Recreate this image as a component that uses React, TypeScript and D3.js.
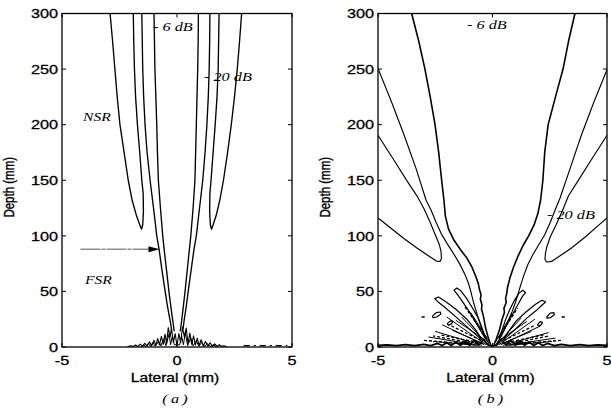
import React from "react";
import * as d3 from "d3";

type Pt = [number, number]; // [lateral (mm), depth (mm)]
type Seg = [Pt, Pt];

const depthTicks = [0, 50, 100, 150, 200, 250, 300];
const lateralTicks = [-5, 0, 5];

// ---------- panel (a): contours ----------
const aOuterLeft: Pt[] = [
  [-2.91, 300], [-2.8, 275], [-2.7, 250], [-2.6, 225], [-2.48, 200], [-2.3, 175],
  [-2.12, 150], [-1.95, 132], [-1.76, 118], [-1.62, 110], [-1.54, 106], [-1.49, 110],
  [-1.46, 122], [-1.47, 138], [-1.53, 150], [-1.62, 175], [-1.72, 200], [-1.8, 225],
  [-1.85, 250], [-1.88, 275], [-1.9, 300],
];
const aMidLeft: Pt[] = [
  [-1.53, 300], [-1.51, 275], [-1.49, 250], [-1.45, 225], [-1.39, 200], [-1.3, 175],
  [-1.17, 150], [-1.02, 125], [-0.88, 100], [-0.78, 88], [-0.66, 70], [-0.53, 52],
  [-0.41, 36], [-0.3, 24], [-0.24, 16],
];
const aInnerLeft: Pt[] = [
  [-1.0, 300], [-0.98, 275], [-0.96, 250], [-0.92, 225], [-0.88, 200], [-0.85, 175],
  [-0.81, 150], [-0.72, 125], [-0.62, 100], [-0.56, 88], [-0.45, 68], [-0.34, 48],
  [-0.24, 32], [-0.16, 20], [-0.12, 14],
];
const aOuterRight: Pt[] = [
  [2.81, 300], [2.72, 275], [2.62, 250], [2.5, 225], [2.36, 200], [2.2, 175],
  [2.02, 150], [1.86, 132], [1.7, 118], [1.57, 110], [1.5, 106], [1.45, 110],
  [1.42, 122], [1.43, 138], [1.48, 150], [1.57, 175], [1.66, 200], [1.74, 225],
  [1.79, 250], [1.81, 275], [1.83, 300],
];
const aMidRight: Pt[] = [
  [1.43, 300], [1.42, 275], [1.4, 250], [1.36, 225], [1.3, 200], [1.22, 175],
  [1.12, 150], [0.98, 125], [0.84, 100], [0.74, 88], [0.62, 70], [0.5, 52],
  [0.4, 36], [0.31, 24], [0.26, 16],
];
const aInnerRight: Pt[] = [
  [0.93, 300], [0.92, 275], [0.9, 250], [0.87, 225], [0.84, 200], [0.81, 175],
  [0.78, 150], [0.7, 125], [0.6, 100], [0.54, 88], [0.44, 68], [0.34, 48],
  [0.25, 32], [0.18, 20], [0.14, 14],
];
// near-field side-lobe ripples of panel (a)
const aNearField: Pt[] = [
  [-2.15, 0.5], [-2.0, 1.2], [-1.9, 0.4], [-1.8, 1.8], [-1.7, 0.5], [-1.6, 2.6],
  [-1.5, 0.6], [-1.4, 3.4], [-1.3, 0.8], [-1.2, 4.6], [-1.1, 1.0], [-1.0, 6.0],
  [-0.92, 1.4], [-0.84, 7.5], [-0.76, 1.8], [-0.68, 9.5], [-0.6, 2.4], [-0.52, 11.5],
  [-0.45, 3.0], [-0.38, 17.5], [-0.3, 9.0], [-0.24, 17.0], [-0.16, 4.0], [-0.08, 12.0],
  [0.0, 1.0], [0.08, 12.0], [0.16, 4.0], [0.24, 18.0], [0.32, 9.0], [0.4, 17.0],
  [0.48, 3.0], [0.56, 12.5], [0.64, 2.4], [0.72, 10.0], [0.8, 1.8], [0.88, 8.0],
  [0.96, 1.4], [1.05, 6.5], [1.14, 1.0], [1.24, 5.0], [1.34, 0.8], [1.44, 3.8],
  [1.54, 0.6], [1.64, 2.8], [1.74, 0.5], [1.84, 2.0], [1.94, 0.4], [2.04, 1.2],
  [2.15, 0.5],
];
const aNearField2: Pt[] = [
  [-1.55, 0.5], [-1.45, 2.0], [-1.35, 0.5], [-1.25, 3.0], [-1.15, 0.6], [-1.05, 4.0],
  [-0.95, 0.8], [-0.8, 5.0], [-0.7, 1.0], [-0.58, 7.5], [-0.48, 1.2], [-0.34, 12.0],
  [-0.28, 2.0], [-0.2, 10.0], [-0.12, 2.0], [0.12, 2.0], [0.2, 10.0], [0.28, 2.0],
  [0.36, 13.0], [0.46, 1.2], [0.6, 8.0], [0.7, 1.0], [0.84, 5.5], [0.95, 0.8],
  [1.08, 4.0], [1.2, 0.6], [1.32, 3.0], [1.45, 0.5], [1.58, 2.0], [1.7, 0.5],
];
const aFarTail: Pt[] = [[2.9, 1.2], [4.8, 1.2]];
const aArrow: Pt[] = [[-4.2, 88], [-0.76, 88]];

// ---------- panel (b): contours ----------
const bMainLeft: Pt[] = [
  [-3.53, 300], [-3.22, 275], [-2.95, 250], [-2.72, 225], [-2.51, 200], [-2.35, 175],
  [-2.22, 150], [-2.12, 132], [-2.06, 118], [-1.92, 106], [-1.68, 96], [-1.38, 87],
  [-1.12, 80], [-0.9, 72], [-0.74, 64], [-0.62, 57], [-0.56, 51], [-0.5, 47],
  [-0.53, 43], [-0.46, 38], [-0.48, 34], [-0.4, 28], [-0.3, 17], [-0.18, 8], [-0.08, 2],
];
const bMainRight: Pt[] = [
  [3.6, 300], [3.32, 275], [3.08, 250], [2.75, 225], [2.43, 200], [2.28, 175],
  [2.2, 150], [2.1, 132], [1.98, 120], [1.82, 110], [1.58, 100], [1.35, 92],
  [1.12, 82], [0.92, 72], [0.76, 62], [0.66, 54], [0.62, 48], [0.57, 44],
  [0.6, 40], [0.5, 35], [0.52, 31], [0.42, 25], [0.3, 15], [0.16, 7], [0.06, 2],
];
const bEdgeLeft: Pt[] = [
  [-5, 250.5], [-4.4, 220], [-3.85, 190], [-3.33, 160], [-2.9, 132], [-2.68, 123],
  [-2.46, 112], [-2.24, 102], [-1.98, 93], [-1.7, 84], [-1.44, 75], [-1.22, 66],
  [-1.06, 58], [-0.96, 51], [-0.9, 46], [-0.84, 41], [-0.74, 34], [-0.62, 26],
  [-0.48, 17], [-0.32, 9], [-0.16, 3],
];
const bEdgeRight: Pt[] = [
  [5, 249.5], [4.42, 220], [3.87, 190], [3.38, 160], [2.95, 134], [2.73, 123],
  [2.52, 112], [2.28, 101], [2.02, 92], [1.76, 83], [1.54, 74], [1.36, 64],
  [1.22, 55], [1.12, 48], [1.0, 40], [0.86, 32], [0.68, 23], [0.48, 14],
  [0.28, 6], [0.14, 2],
];
const bLobeLeft: Pt[] = [
  [-5, 190.5], [-4.3, 168], [-3.72, 149], [-3.3, 136], [-2.98, 124], [-2.72, 112],
  [-2.48, 100], [-2.32, 92], [-2.25, 86], [-2.23, 80], [-2.28, 77], [-2.45, 77.3],
  [-2.8, 82], [-3.3, 89], [-3.9, 98], [-4.5, 108], [-5, 116],
];
const bLobeRight: Pt[] = [
  [5, 190.5], [4.3, 168], [3.72, 149], [3.32, 136], [3.06, 123], [2.78, 110],
  [2.52, 99], [2.37, 90], [2.31, 84], [2.29, 79], [2.36, 76.5], [2.58, 77],
  [2.95, 82], [3.45, 89], [4.05, 99], [4.6, 109], [5, 116],
];
// near-field finger lobes (closed)
const bFingerLeft1: Pt[] = [
  [-0.3, 7], [-0.7, 21], [-1.05, 33], [-1.35, 42], [-1.56, 48], [-1.68, 51],
  [-1.56, 53], [-1.38, 50.5], [-1.14, 44], [-0.9, 36], [-0.62, 26], [-0.42, 15], [-0.3, 7],
];
const bFingerLeft2: Pt[] = [
  [-0.45, 6], [-1.05, 17], [-1.65, 28], [-2.1, 36], [-2.4, 41], [-2.52, 43.5],
  [-2.36, 45], [-2.05, 41], [-1.6, 34], [-1.12, 25], [-0.72, 15], [-0.45, 6],
];
const bFingerRight1: Pt[] = [
  [0.3, 7], [0.62, 20], [0.92, 31], [1.16, 40], [1.32, 46], [1.44, 49],
  [1.32, 51], [1.14, 48], [0.96, 42], [0.76, 34], [0.56, 24], [0.4, 14], [0.3, 7],
];
const bFingerRight2: Pt[] = [
  [0.45, 6], [1.0, 16], [1.5, 26], [1.92, 33], [2.18, 38], [2.32, 40.5],
  [2.16, 42], [1.88, 38.5], [1.46, 31.5], [1.04, 23.5], [0.7, 14], [0.45, 6],
];
// small closed islands
const bIslandsLeft: Pt[][] = [
  [[-2.62, 28], [-2.45, 31], [-2.28, 31.5], [-2.26, 29.5], [-2.44, 27], [-2.6, 26.5], [-2.62, 28]],
  [[-1.98, 21], [-1.84, 23.5], [-1.74, 23], [-1.78, 21], [-1.92, 19.5], [-1.98, 21]],
];
const bIslandsRight: Pt[][] = [
  [[2.36, 27], [2.52, 30.5], [2.68, 31], [2.7, 29], [2.54, 26.5], [2.38, 26], [2.36, 27]],
  [[1.96, 20], [2.08, 22.8], [2.18, 22.2], [2.14, 20.2], [2.02, 19], [1.96, 20]],
];
const bDashes: Seg[] = [
  [[-3.1, 27], [-2.96, 27]],
  [[3.02, 27], [3.16, 27]],
];
// radial streaks close to the aperture
const bStreaks: Seg[] = [
  [[-0.12, 4], [-0.95, 31]], [[-0.2, 2.5], [-1.35, 27]], [[-0.28, 2], [-2.0, 27]],
  [[-0.36, 2], [-2.2, 20]], [[-0.46, 1.5], [-2.5, 14]], [[-0.58, 1.5], [-2.8, 9]],
  [[-0.7, 1.5], [-2.6, 5]], [[-0.22, 5], [-1.6, 24]], [[-0.4, 3], [-1.75, 15]],
  [[0.12, 4], [0.85, 30]], [[0.2, 2.5], [1.25, 26]],
  [[0.28, 2], [1.85, 25]], [[0.36, 2], [2.1, 19]], [[0.46, 1.5], [2.45, 13]],
  [[0.58, 1.5], [2.75, 8]], [[0.7, 1.5], [2.6, 5]], [[0.22, 5], [1.5, 23]],
  [[0.4, 3], [1.7, 14]],
];
const bStreaksDashed: Seg[] = [
  [[-0.5, 6], [-1.9, 20]], [[-0.6, 4], [-2.3, 11]], [[-0.9, 2.5], [-3.0, 6]],
  [[-0.25, 8], [-1.2, 36]], [[-1.0, 4], [-2.6, 10]], [[0.5, 6], [1.8, 19]],
  [[0.6, 4], [2.25, 11]], [[0.9, 2.5], [3.0, 6]], [[0.25, 8], [1.1, 35]],
  [[1.0, 4], [2.5, 10]],
];
// near-surface ripple running across the aperture
const bSurface: Pt[] = [
  [-5, 1.4], [-4.6, 2.0], [-4.2, 1.2], [-3.8, 2.2], [-3.4, 1.3], [-3.0, 2.4],
  [-2.7, 1.2], [-2.4, 3.2], [-2.2, 1.3], [-2.0, 3.8], [-1.8, 1.4], [-1.6, 4.4],
  [-1.4, 1.5], [-1.2, 5.2], [-1.0, 1.6], [-0.8, 6.0], [-0.6, 1.8], [-0.4, 6.5],
  [-0.2, 2.0], [0.0, 1.0], [0.2, 2.0], [0.4, 6.5], [0.6, 1.8], [0.8, 6.0],
  [1.0, 1.6], [1.2, 5.2], [1.4, 1.5], [1.6, 4.4], [1.8, 1.4], [2.0, 3.8],
  [2.2, 1.3], [2.4, 3.2], [2.7, 1.2], [3.0, 2.4], [3.4, 1.3], [3.8, 2.2],
  [4.2, 1.2], [4.6, 2.0], [5, 1.4],
];

// ---------- layout ----------
const SX = 1.25; // horizontal stretch of glyphs
const TOP = 13.5;
const BOTTOM = 347;

function StretchText(props: {
  x: number; y: number; anchor?: string; size: number; serif?: boolean;
  italic?: boolean; rotate?: boolean; children: React.ReactNode;
}) {
  const { x, y, anchor = "start", size, serif, italic, rotate, children } = props;
  return (
    <text
      transform={`translate(${x},${y}) scale(${SX},1)${rotate ? " rotate(-90)" : ""}`}
      textAnchor={anchor}
      fontSize={size}
      fontFamily={serif ? "'Liberation Serif', 'DejaVu Serif', serif" : "'Liberation Sans', Arial, sans-serif"}
      fontStyle={italic ? "italic" : "normal"}
      fill="#000"
      stroke={serif ? "none" : "#000"}
      strokeWidth={serif ? 0 : 0.3}
    >
      {children}
    </text>
  );
}

function Panel(props: {
  id: string; left: number; right: number; caption: string;
  children: (x: d3.ScaleLinear<number, number>, y: d3.ScaleLinear<number, number>,
    line: d3.Line<Pt>) => React.ReactNode;
}) {
  const { id, left, right, caption, children } = props;
  const x = d3.scaleLinear().domain([-5, 5]).range([left, right]);
  const y = d3.scaleLinear().domain([0, 300]).range([BOTTOM, TOP]);
  const line = d3.line<Pt>().x((d) => x(d[0])).y((d) => y(d[1]));
  const tick = 4;
  return (
    <g>
      <defs>
        <clipPath id={`clip-${id}`}>
          <rect x={left} y={TOP} width={right - left} height={BOTTOM - TOP} />
        </clipPath>
      </defs>
      <g clipPath={`url(#clip-${id})`}>{children(x, y, line)}</g>
      <rect x={left} y={TOP} width={right - left} height={BOTTOM - TOP}
        fill="none" stroke="#000" strokeWidth={1.3} />
      {depthTicks.map((t) => (
        <g key={`yt${t}`}>
          <line x1={left} x2={left + tick} y1={y(t)} y2={y(t)} stroke="#000" />
          <line x1={right} x2={right - tick} y1={y(t)} y2={y(t)} stroke="#000" />
          <StretchText x={left - 4} y={y(t) + 4.7} anchor="end" size={13}>{t}</StretchText>
        </g>
      ))}
      {lateralTicks.map((t) => (
        <g key={`xt${t}`}>
          <line x1={x(t)} x2={x(t)} y1={BOTTOM} y2={BOTTOM - tick} stroke="#000" />
          <line x1={x(t)} x2={x(t)} y1={TOP} y2={TOP + tick} stroke="#000" />
          <StretchText x={x(t)} y={BOTTOM + 18} anchor="middle" size={13}>{t}</StretchText>
        </g>
      ))}
      <StretchText x={(left + right) / 2 - 2} y={382} anchor="middle" size={12.5}>Lateral (mm)</StretchText>
      <StretchText x={left - 48} y={(TOP + BOTTOM) / 2 + 7} anchor="middle" size={11.5} rotate>Depth (mm)</StretchText>
      <StretchText x={(left + right) / 2 - 2} y={403} anchor="middle" size={13} serif italic>{`(\u2009${caption}\u2009)`}</StretchText>
    </g>
  );
}

export default function App() {
  return (
    <svg width={611} height={410} style={{ display: "block", position: "absolute", left: 0, top: 0, background: "#fff" }}>
      <rect width={611} height={410} fill="#fff" />
      <Panel id="a" left={62} right={292} caption="a">
        {(x, y, line) => (
          <g fill="none" stroke="#000" strokeLinejoin="round">
            {[aOuterLeft, aMidLeft, aInnerLeft, aOuterRight, aMidRight, aInnerRight].map((c, i) => (
              <path key={i} d={line(c) ?? ""} strokeWidth={1.35} />
            ))}
            <path d={line(aNearField) ?? ""} strokeWidth={1.1} />
            <path d={line(aNearField2) ?? ""} strokeWidth={1} />
            <path d={line(aFarTail) ?? ""} strokeWidth={1.2} strokeDasharray="6 4 2 4" />
            <path d={line(aArrow) ?? ""} stroke="#555" strokeWidth={1} strokeDasharray="20 1 4 1" />
            <path
              d={`M${x(aArrow[1][0])},${y(aArrow[1][1])} l-11,-3 l0,6 z`}
              fill="#000" stroke="none"
            />
          </g>
        )}
      </Panel>
      <Panel id="b" left={378} right={607} caption="b">
        {(x, y, line) => (
          <g fill="none" stroke="#000" strokeLinejoin="round">
            <path d={line(bMainLeft) ?? ""} strokeWidth={1.6} />
            <path d={line(bMainRight) ?? ""} strokeWidth={1.6} />
            {[bEdgeLeft, bEdgeRight, bLobeLeft, bLobeRight].map((c, i) => (
              <path key={i} d={line(c) ?? ""} strokeWidth={1.15} />
            ))}
            {[bFingerLeft1, bFingerLeft2, bFingerRight1, bFingerRight2, ...bIslandsLeft, ...bIslandsRight].map((c, i) => (
              <path key={`f${i}`} d={line(c) ?? ""} strokeWidth={1.2} />
            ))}
            {bDashes.map((s, i) => (
              <path key={`d${i}`} d={line(s) ?? ""} strokeWidth={1.5} />
            ))}
            {bStreaks.map((s, i) => (
              <path key={`s${i}`} d={line(s) ?? ""} strokeWidth={1} />
            ))}
            {bStreaksDashed.map((s, i) => (
              <path key={`sd${i}`} d={line(s) ?? ""} strokeWidth={1.3} strokeDasharray="3 2" />
            ))}
            <path d={line(bSurface) ?? ""} strokeWidth={1.8} />
          </g>
        )}
      </Panel>
      {/* panel (a) annotations */}
      <StretchText x={83} y={121} size={12.5} serif italic>NSR</StretchText>
      <StretchText x={85} y={284} size={12.5} serif italic>FSR</StretchText>
      <StretchText x={153} y={31} size={13} serif italic>- 6 dB</StretchText>
      <StretchText x={204} y={81} size={13} serif italic>- 20 dB</StretchText>
      {/* panel (b) annotations */}
      <StretchText x={467} y={29} size={13} serif italic>- 6 dB</StretchText>
      <StretchText x={547} y={219} size={13} serif italic>- 20 dB</StretchText>
    </svg>
  );
}
